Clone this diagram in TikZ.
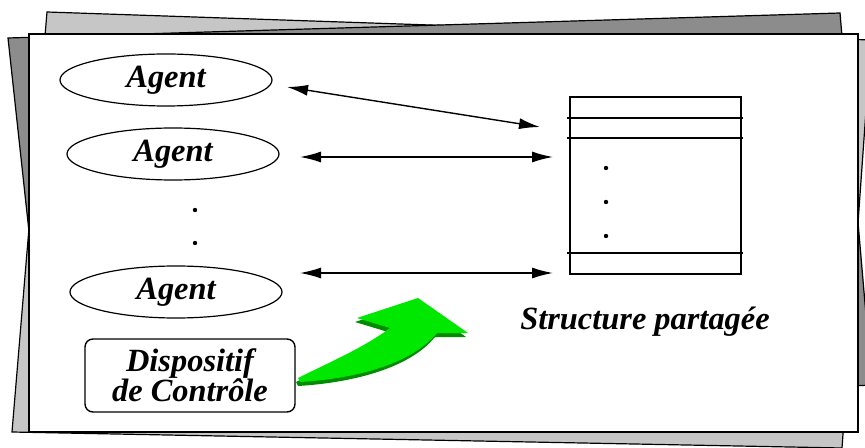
\documentclass[tikz,border=0pt]{standalone}
\usepackage{fontspec}
\setmainfont{Liberation Serif}
\usetikzlibrary{shapes.geometric,arrows.meta}
\newcommand\greenshape{(298,378) .. controls (330,362) and (365,347) .. (390,328) -- (357,318) -- (418,298) -- (468,333) -- (437,333) .. controls (410,366) and (350,379) .. (300,382) -- cycle}
\begin{document}
\begin{tikzpicture}[x=0.5pt,y=-0.5pt,
 agent/.style={ellipse,draw,line width=0.6pt,minimum width=106pt,minimum height=26pt,inner sep=0pt,font=\fontsize{16.2}{15}\selectfont\bfseries\itshape},
 lbl/.style={font=\fontsize{16.2}{15}\selectfont\bfseries\itshape,align=center},
 link/.style={line width=0.7pt,{Latex[length=10.5pt,width=5.5pt]}-{Latex[length=10.5pt,width=5.5pt]}},
 sheet/.style={draw=black,line width=0.6pt},
 dotmark/.style={circle,fill=black,inner sep=0pt,minimum size=2.2pt}
]
\useasboundingbox (0,0) rectangle (865,448);
\fill[white] (0,0) rectangle (865,448);
% back sheets
\filldraw[sheet,fill=gray!45] (47,12) -- (871,40) -- (842,448) -- (12,432) -- cycle;
\filldraw[sheet,fill=gray!90] (8,38) -- (840,13) -- (872,385) -- (50,425) -- cycle;
% main sheet
\filldraw[fill=white,draw=black,line width=0.9pt] (29,34) rectangle (858,432);
% agents
\node[agent] (a1) at (166,80) {Agent};
\node[agent] (a2) at (173,154) {Agent};
\node[agent] (a3) at (176,292) {Agent};
\node[dotmark] (d1) at (195,210) {};
\node[dotmark] (d2) at (195,243) {};
% control box
\node[draw,rounded corners=4pt,line width=0.7pt,minimum width=105pt,minimum height=36.5pt,inner sep=0pt,lbl] (ctrl) at (190,375.5) {Dispositif\\de Contrôle};
% shared structure
\node[draw,line width=0.8pt,minimum width=85.5pt,minimum height=88.5pt,inner sep=0pt] (tab) at (655.5,185.5) {};
\draw[line width=0.8pt] (567,118) -- (743,118);
\draw[line width=0.8pt] (567,138) -- (743,138);
\draw[line width=0.8pt] (567,253) -- (743,253);
\node[dotmark] (t1) at (606,168) {};
\node[dotmark] (t2) at (606,202) {};
\node[dotmark] (t3) at (606,236) {};
\node[lbl] (sp) at (645,322) {Structure partagée};
% connectors
\coordinate (p1a) at (287,87); \coordinate (p1b) at (540,127);
\coordinate (p2a) at (300,157); \coordinate (p2b) at (553,157);
\coordinate (p3a) at (300,273); \coordinate (p3b) at (553,273);
\draw[link] (p1a) -- (p1b);
\draw[link] (p2a) -- (p2b);
\draw[link] (p3a) -- (p3b);
% green arrow
\begin{scope}[shift={(-2,4)}]
\fill[green!55!black] \greenshape;
\end{scope}
\fill[green!85!black!60!green] \greenshape;
\end{tikzpicture}
\end{document}
